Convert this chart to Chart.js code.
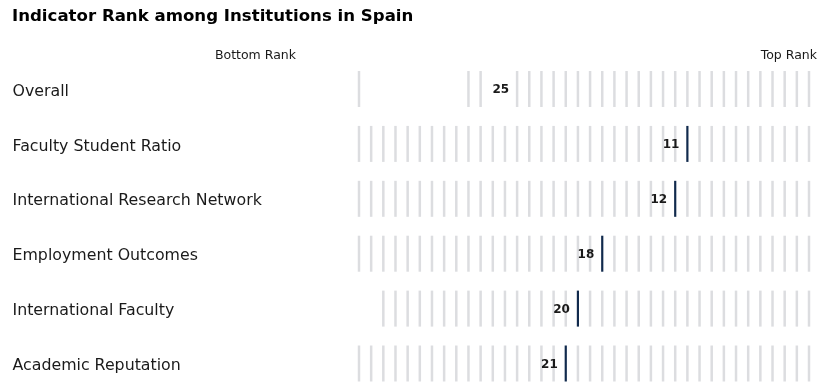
<!DOCTYPE html>
<html>
<head>
<meta charset="utf-8">
<script src="https://cdn.jsdelivr.net/npm/chart.js@4/dist/chart.umd.min.js"></script>
<style>
  html, body { margin: 0; padding: 0; background: #ffffff; }
  #wrap { width: 826px; height: 389px; }
</style>
</head>
<body>
<div id="wrap"><canvas id="c" width="826" height="389"></canvas></div>
<script>
// ---- Data ----
const indicators = ["Overall", "Faculty Student Ratio", "International Research Network", "Employment Outcomes", "International Faculty", "Academic Reputation"];
const indicatorRanks = [25, 11, 12, 18, 20, 21];
const overallRanks = [1,2,3,4,5,6,7,8,9,10,11,12,13,14,15,16,17,18,19,20,21,22,23,24,25,28,29,38];
const facultyStudentRanks = [1,2,3,4,5,6,7,8,9,10,11,12,13,14,15,16,17,18,19,20,21,22,23,24,25,26,27,28,29,30,31,32,33,34,35,36,37,38];
const researchNetworkRanks = [1,2,3,4,5,6,7,8,9,10,11,12,13,14,15,16,17,18,19,20,21,22,23,24,25,26,27,28,29,30,31,32,33,34,35,36,37,38];
const employmentRanks = [1,2,3,4,5,6,7,8,9,10,11,12,13,14,15,16,17,18,19,20,21,22,23,24,25,26,27,28,29,30,31,32,33,34,35,36,37,38];
const intlFacultyRanks = [1,2,3,4,5,6,7,8,9,10,11,12,13,14,15,16,17,18,19,20,21,22,23,24,25,26,27,28,29,30,31,32,33,34,35,36];
const academicRanks = [1,2,3,4,5,6,7,8,9,10,11,12,13,14,15,16,17,18,19,20,21,22,23,24,25,26,27,28,29,30,31,32,33,34,35,36,37,38];
const rankListsByRow = [overallRanks, facultyStudentRanks, researchNetworkRanks, employmentRanks, intlFacultyRanks, academicRanks];
const highlightRows = [false, true, true, true, true, true];
const minRank = 1;
const maxRank = 38;

// ---- Styles ----
const GRAY = "#dcdde0";
const NAVY = "#112a4d";
const TEXT = "#1a1a1a";
const FONT = "'DejaVu Sans', Verdana, sans-serif";

const grayPoints = [];
rankListsByRow.forEach((list, i) => {
  list.forEach(r => {
    if (!(highlightRows[i] && r === indicatorRanks[i])) grayPoints.push({ x: r, y: indicators[i] });
  });
});
const navyPoints = [];
indicatorRanks.forEach((r, i) => { if (highlightRows[i]) navyPoints.push({ x: r, y: indicators[i] }); });

const extras = {
  id: 'extras',
  afterDatasetsDraw(chart) {
    const { ctx, scales } = chart;
    const xs = scales.x, ys = scales.y;
    ctx.save();
    ctx.fillStyle = TEXT;
    ctx.textBaseline = "middle";
    // row labels
    ctx.font = "15.8px " + FONT;
    ctx.textAlign = "left";
    indicators.forEach((name, i) => {
      ctx.fillText(name, 12.5, ys.getPixelForValue(i) + 2.5);
    });
    // rank value labels
    ctx.font = "bold 12px " + FONT;
    ctx.textAlign = "right";
    indicatorRanks.forEach((r, i) => {
      ctx.fillText(String(r), xs.getPixelForValue(r) - 8, ys.getPixelForValue(i) + 1);
    });
    ctx.font = "12.5px " + FONT;
    ctx.fillText("Bottom Rank", 296, 55.5);
    ctx.fillText("Top Rank", 817, 55.5);
    ctx.restore();
  }
};

new Chart(document.getElementById('c'), {
  type: 'scatter',
  data: {
    datasets: [
      { data: grayPoints, pointStyle: 'line', rotation: 90, radius: 18, hoverRadius: 18,
        borderColor: GRAY, backgroundColor: GRAY, borderWidth: 2.5, hoverBorderWidth: 2.5, clip: false },
      { data: navyPoints, pointStyle: 'line', rotation: 90, radius: 18, hoverRadius: 18,
        borderColor: NAVY, backgroundColor: NAVY, borderWidth: 2.2, hoverBorderWidth: 2.2, clip: false }
    ]
  },
  options: {
    responsive: false,
    animation: false,
    events: [],
    layout: { autoPadding: false, padding: { left: 12, right: 17, top: 0, bottom: 25.5 } },
    plugins: {
      legend: { display: false },
      tooltip: { enabled: false },
      title: {
        display: true,
        text: "Indicator Rank among Institutions in Spain",
        align: 'start',
        color: "#000",
        font: { family: FONT, size: 16.6, weight: 'bold' },
        padding: { top: 6.5, bottom: 62.6 }
      }
    },
    scales: {
      x: {
        type: 'linear', reverse: true, min: minRank, max: maxRank, display: false
      },
      y: {
        type: 'category', labels: indicators, offset: false,
        grid: { display: false }, border: { display: false },
        afterFit(scale) { scale.width = 347; },
        ticks: { display: false }
      }
    }
  },
  plugins: [extras]
});
</script>
</body>
</html>
